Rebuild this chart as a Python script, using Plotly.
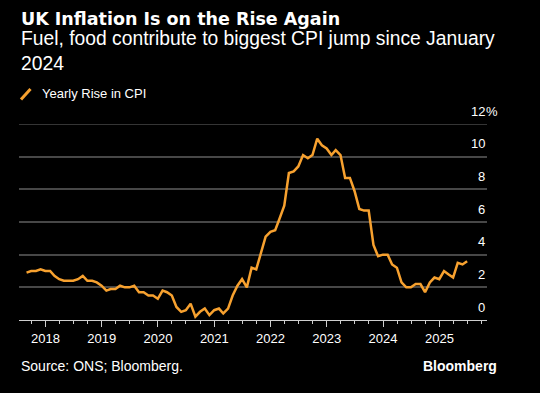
import pandas as pd
import plotly.graph_objects as go

# Monthly UK CPI, yearly % change, Aug 2017 - Jun 2025
start_month = "2017-08-31"
cpi = [
    2.9, 3.0, 3.0, 3.1, 3.0,                                  # 2017 Aug-Dec
    3.0, 2.7, 2.5, 2.4, 2.4, 2.4, 2.5, 2.7, 2.4, 2.4, 2.3, 2.1,  # 2018
    1.8, 1.9, 1.9, 2.1, 2.0, 2.0, 2.1, 1.7, 1.7, 1.5, 1.5, 1.3,  # 2019
    1.8, 1.7, 1.5, 0.8, 0.5, 0.6, 1.0, 0.2, 0.5, 0.7, 0.3, 0.6,  # 2020
    0.7, 0.4, 0.7, 1.5, 2.1, 2.5, 2.0, 3.2, 3.1, 4.2, 5.1, 5.4,  # 2021
    5.5, 6.2, 7.0, 9.0, 9.1, 9.4, 10.1, 9.9, 10.1, 11.1, 10.7, 10.5,  # 2022
    10.1, 10.4, 10.1, 8.7, 8.7, 7.9, 6.8, 6.7, 6.7, 4.6, 3.9, 4.0,  # 2023
    4.0, 3.4, 3.2, 2.3, 2.0, 2.0, 2.2, 2.2, 1.7, 2.3, 2.6, 2.5,  # 2024
    3.0, 2.8, 2.6, 3.5, 3.4, 3.6,                             # 2025
]
dates = pd.date_range(start_month, periods=len(cpi), freq="ME")

y_ticks = [0, 2, 4, 6, 8, 10, 12]
y_labels = ["0", "2", "4", "6", "8", "10", "12"]

title = "UK Inflation Is on the Rise Again"
subtitle = "Fuel, food contribute to biggest CPI jump since January<br>2024"
series_name = "Yearly Rise in CPI"
source = "Source: ONS; Bloomberg."

W, H = 540, 393
L, R, T, B = 19, 53, 124, 73
PW, PH = W - L - R, H - T - B

def px(x):
    return (x - L) / PW

def py(y):
    return (H - B - y) / PH

ORANGE = "#F7A12F"
GRID = "#474747"
FONT = "Liberation Sans"

fig = go.Figure()
fig.add_trace(go.Scatter(
    x=dates, y=cpi, mode="lines", name=series_name,
    line=dict(color=ORANGE, width=2.5), showlegend=False,
    hoverinfo="skip",
))

fig.update_layout(
    width=W, height=H,
    margin=dict(l=L, r=R, t=T, b=B, pad=0),
    paper_bgcolor="black", plot_bgcolor="black",
    font=dict(family=FONT, color="white", size=13),
    xaxis=dict(
        range=["2017-07-13", "2025-11-06"],
        showgrid=False, zeroline=False,
        showline=True, linecolor="#cfcfcf", linewidth=1,
        ticks="outside", ticklen=6, tickwidth=1, tickcolor="#cfcfcf",
        tick0="2018-01-01", dtick="M12", tickformat="%Y",
        tickfont=dict(family=FONT, size=13, color="white"),
        minor=dict(ticks="outside", ticklen=3, tickwidth=1, tickcolor="#cfcfcf",
                   dtick="M3", tick0="2018-01-01", showgrid=False),
        fixedrange=True, automargin=False,
    ),
    yaxis=dict(
        range=[0, 12], tickvals=y_ticks, showticklabels=False,
        showgrid=True, gridcolor=GRID, gridwidth=1.5,
        zeroline=False, fixedrange=True, automargin=False,
    ),
)

ann = []
for v, lab in zip(y_ticks, y_labels):
    ann.append(dict(x=1, xref="paper", y=v, yref="y", text=lab, showarrow=False,
                    xanchor="right", yanchor="middle", yshift=13,
                    font=dict(family=FONT, size=13, color="white")))
ann.append(dict(x=1, xref="paper", y=12, yref="y", text="%", showarrow=False,
                xanchor="left", yanchor="middle", yshift=13, xshift=-3,
                font=dict(family=FONT, size=13, color="white")))

ann.append(dict(x=px(19), xref="paper", y=py(18.5), yref="paper", text="<b>" + title + "</b>",
                showarrow=False, xanchor="left", yanchor="middle",
                font=dict(family="DejaVu Sans", size=17.5, color="white")))
ann.append(dict(x=px(19), xref="paper", y=py(51), yref="paper", text=subtitle,
                showarrow=False, xanchor="left", yanchor="middle", align="left",
                font=dict(family=FONT, size=19.3, color="white")))
ann.append(dict(x=px(40), xref="paper", y=py(93.5), yref="paper", text=series_name,
                showarrow=False, xanchor="left", yanchor="middle",
                font=dict(family=FONT, size=13, color="white")))
ann.append(dict(x=px(19), xref="paper", y=py(366), yref="paper", text=source,
                showarrow=False, xanchor="left", yanchor="middle",
                font=dict(family=FONT, size=14, color="white")))
ann.append(dict(x=px(499), xref="paper", y=py(366), yref="paper", text="<b>Bloomberg</b>",
                showarrow=False, xanchor="right", yanchor="middle",
                font=dict(family=FONT, size=14, color="white")))

fig.update_layout(annotations=ann)
# top gridline (plotly omits the grid line at the range edge)
fig.add_shape(type="line", xref="paper", yref="y", x0=0, x1=1, y0=12, y1=12,
              line=dict(color=GRID, width=1.5), layer="below")
# legend icon
fig.add_shape(type="line", xref="paper", yref="paper",
              x0=px(21), y0=py(99.5), x1=px(30.5), y1=py(89),
              line=dict(color=ORANGE, width=3))

fig.write_html("out.html", config={"displayModeBar": False},
               post_script="document.body.style.margin='0px';")
